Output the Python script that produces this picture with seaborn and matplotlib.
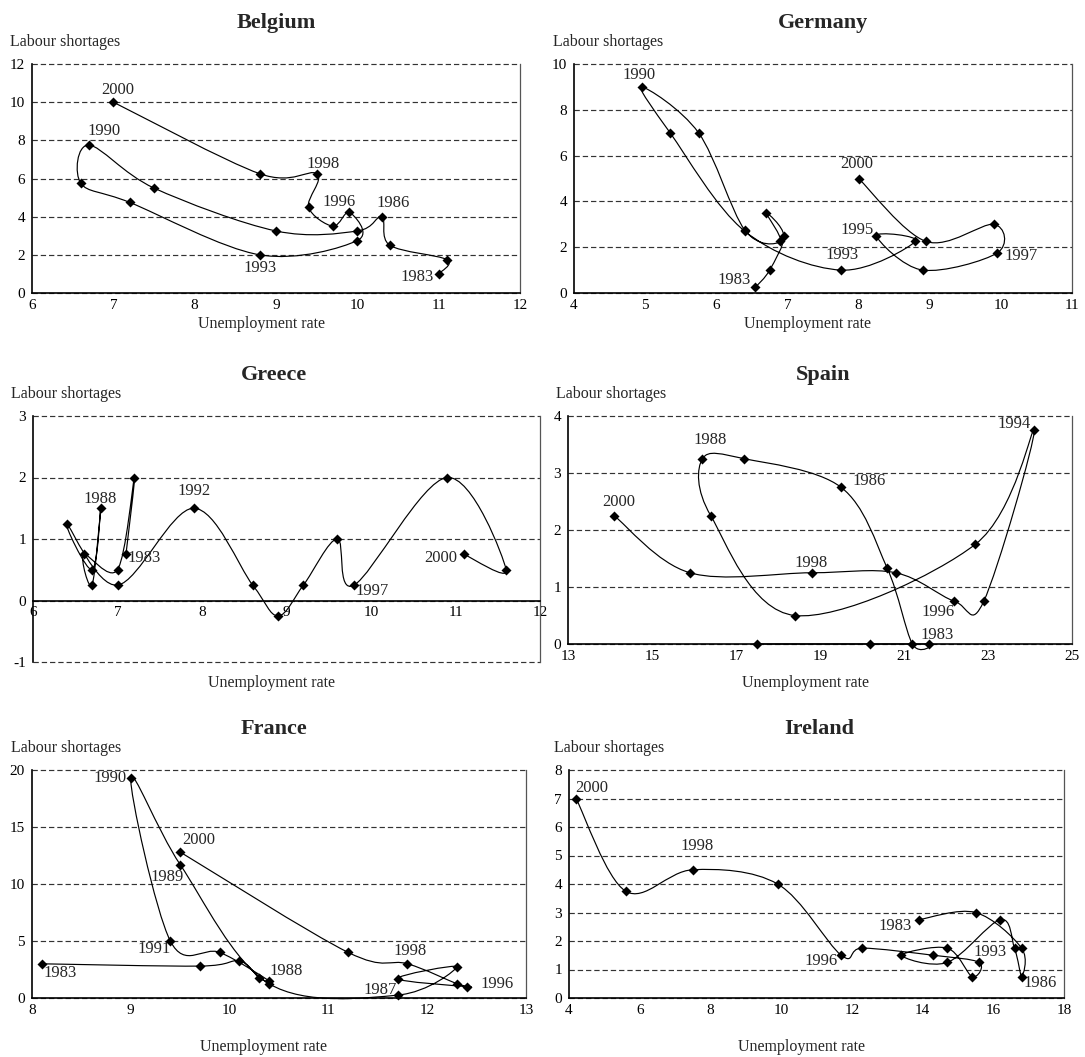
import numpy as np
import pandas as pd
import seaborn as sns
import matplotlib.pyplot as plt
from matplotlib.path import Path
from matplotlib.patches import PathPatch

years = list(range(1983, 2001))

# unemployment rate (x) and labour shortages (y), 1983-2000
belgium_u = [11.0, 11.1, 10.4, 10.3, 10.0, 9.0, 7.5, 6.7, 6.6, 7.2, 8.8, 10.0, 9.9, 9.7, 9.4, 9.5, 8.8, 7.0]
belgium_s = [1.0, 1.75, 2.5, 4.0, 3.25, 3.25, 5.5, 7.75, 5.75, 4.75, 2.0, 2.75, 4.25, 3.5, 4.5, 6.25, 6.25, 10.0]

germany_u = [6.55, 6.75, 6.95, 6.7, 6.9, 6.4, 5.75, 4.95, 5.35, 6.4, 7.75, 8.8, 8.25, 8.9, 9.95, 9.9, 8.95, 8.0]
germany_s = [0.25, 1.0, 2.5, 3.5, 2.25, 2.75, 7.0, 9.0, 7.0, 2.7, 1.0, 2.25, 2.5, 1.0, 1.75, 3.0, 2.25, 5.0]

greece_u = [7.1, 7.2, 7.0, 6.6, 6.7, 6.8, 6.7, 6.4, 7.0, 7.9, 8.6, 8.9, 9.2, 9.6, 9.8, 10.9, 11.6, 11.1]
greece_s = [0.75, 2.0, 0.5, 0.75, 0.25, 1.5, 0.5, 1.25, 0.25, 1.5, 0.25, -0.25, 0.25, 1.0, 0.25, 2.0, 0.5, 0.75]

spain_u = [17.5, 20.2, 21.6, 21.2, 20.6, 19.5, 17.2, 16.2, 16.4, 18.4, 22.7, 24.1, 22.9, 22.2, 20.8, 18.8, 15.9, 14.1]
spain_s = [0.0, 0.0, 0.0, 0.0, 1.33, 2.75, 3.25, 3.25, 2.25, 0.5, 1.75, 3.75, 0.75, 0.75, 1.25, 1.25, 1.25, 2.25]

france_u = [8.1, 9.7, 10.1, 10.3, 10.4, 9.9, 9.4, 9.0, 9.5, 10.4, 11.7, 12.3, 11.7, 12.4, 12.3, 11.8, 11.2, 9.5]
france_s = [3.0, 2.8, 3.25, 1.75, 1.5, 4.0, 5.0, 19.3, 11.7, 1.25, 0.25, 2.75, 1.7, 1.0, 1.25, 3.0, 4.0, 12.8]

ireland_u = [13.9, 15.5, 16.8, 16.8, 16.6, 16.2, 14.7, 13.4, 14.7, 15.4, 15.6, 14.3, 12.3, 11.7, 9.9, 7.5, 5.6, 4.2]
ireland_s = [2.75, 3.0, 1.75, 0.75, 1.75, 2.75, 1.25, 1.5, 1.75, 0.75, 1.25, 1.5, 1.75, 1.5, 4.0, 4.5, 3.75, 7.0]

# year labels: (text, point it sits next to, offset in pixels)
belgium_labels = [('2000', 2000, 4, 12), ('1990', 1990, 15, 14), ('1998', 1998, 6, 10),
                  ('1996', 1995, -10, 10), ('1986', 1986, 11, 14), ('1993', 1993, 0, -13),
                  ('1983', 1983, -22, -3)]
germany_labels = [('1990', 1990, -3, 12), ('2000', 2000, -2, 15), ('1995', 1995, -19, 6),
                  ('1993', 1993, 1, 15), ('1997', 1997, 24, -3), ('1983', 1983, -21, 7)]
greece_labels = [('1988', 1988, 0, 9), ('1983', 1983, 18, -4), ('1992', 1992, 0, 17),
                 ('1997', 1997, 18, -6), ('2000', 2000, -23, -4)]
spain_labels = [('2000', 2000, 5, 14), ('1988', 1990, 8, 19), ('1986', 1988, 28, 6),
                ('1998', 1998, 0, 10), ('1996', 1996, -16, -11), ('1983', 1985, 8, 9),
                ('1994', 1994, -20, 6)]
france_labels = [('1990', 1990, -21, 0), ('2000', 2000, 19, 12), ('1989', 1991, -13, -12),
                 ('1991', 1989, -16, -8), ('1983', 1983, 18, -9), ('1988', 1987, 17, 10),
                 ('1998', 1998, 3, 13), ('1987', 1993, -17, 5), ('1996', 1996, 30, 3)]
ireland_labels = [('2000', 2000, 16, 10), ('1998', 1998, 4, 24), ('1983', 1983, -24, -6),
                  ('1993', 1993, 11, 10), ('1996', 1996, -20, -6), ('1986', 1986, 19, -6)]

W, H = 1085, 1057

# name, x, y, labels, xlim, xstep, ylim, ystep, box in pixels (l, r, t, b), title dx, ylabel dx, xlabel dy
panels = [
    ('Belgium', belgium_u, belgium_s, belgium_labels, (6, 12), 1, (0, 12), 2, (32, 520, 64, 293), 0, -22, -31),
    ('Germany', germany_u, germany_s, germany_labels, (4, 11), 1, (0, 10), 2, (574, 1072, 64, 293), 0, -21, -31),
    ('Greece', greece_u, greece_s, greece_labels, (6, 12), 1, (-1, 3), 1, (33, 540, 416, 662), -13, -22, -21),
    ('Spain', spain_u, spain_s, spain_labels, (13, 25), 2, (0, 4), 1, (568, 1072, 416, 644), 3, -12, -39),
    ('France', france_u, france_s, france_labels, (8, 13), 1, (0, 20), 5, (32, 526, 770, 998), -5, -21, -49),
    ('Ireland', ireland_u, ireland_s, ireland_labels, (4, 18), 2, (0, 8), 1, (569, 1064, 770, 998), 3, -15, -49),
]


def smooth_path(x, y):
    """Bezier path through the points, like a spreadsheet 'smoothed line'."""
    pts = np.column_stack([x, y]).astype(float)
    n = len(pts)
    verts = [pts[0]]
    codes = [Path.MOVETO]
    for i in range(n - 1):
        p0 = pts[max(i - 1, 0)]
        p1 = pts[i]
        p2 = pts[i + 1]
        p3 = pts[min(i + 2, n - 1)]
        verts += [p1 + (p2 - p0) / 6, p2 - (p3 - p1) / 6, p2]
        codes += [Path.CURVE4] * 3
    return Path(verts, codes)


sns.set_theme(style='white')
plt.rcParams['font.family'] = ['Liberation Serif', 'DejaVu Serif']

fig = plt.figure(figsize=(W / 100, H / 100), dpi=100)
fig.patch.set_facecolor('white')

for (name, xs, ys, labels, xlim, xstep, ylim, ystep, box, tdx, ydx, xdy) in panels:
    l, r, t, b = box
    ax = fig.add_axes([l / W, 1 - b / H, (r - l) / W, (b - t) / H])
    df = pd.DataFrame({'year': years, 'unemployment': xs, 'shortages': ys})

    ax.add_patch(PathPatch(smooth_path(df.unemployment, df.shortages), facecolor='none',
                           edgecolor='black', lw=0.85, clip_on=False, zorder=3))
    sns.scatterplot(data=df, x='unemployment', y='shortages', marker='D', s=26,
                    color='black', edgecolor='black', linewidth=0, ax=ax,
                    zorder=4, clip_on=False, legend=False)

    ax.set_xlim(*xlim)
    ax.set_ylim(*ylim)
    ax.set_xticks(np.arange(xlim[0], xlim[1] + 0.01, xstep))
    ax.set_yticks(np.arange(ylim[0], ylim[1] + 0.01, ystep))
    ax.set_xlabel('')
    ax.set_ylabel('')
    ax.yaxis.grid(True, color='#333333', lw=0.85, ls=(0, (4.5, 2.5)))
    ax.xaxis.grid(False)
    ax.set_axisbelow(True)
    for gl in ax.get_ygridlines():
        gl.set_clip_on(False)

    for side in ['left', 'bottom']:
        ax.spines[side].set_color('black')
        ax.spines[side].set_linewidth(1.2)
    ax.spines['right'].set_color('#555555')
    ax.spines['right'].set_linewidth(0.9)
    ax.spines['top'].set_visible(False)
    if ylim[0] < 0:
        ax.spines['bottom'].set_position(('data', 0))

    ax.tick_params(axis='x', direction='in', length=3, width=0.8, pad=4,
                   labelsize=11, colors='black')
    ax.tick_params(axis='y', length=0, pad=5, labelsize=11, colors='black')
    ax.set_yticklabels([f'{v:g}' for v in ax.get_yticks()])
    ax.set_xticklabels([f'{v:g}' for v in ax.get_xticks()])

    # year labels next to their points
    for text, yr, dx, dy in labels:
        row = df[df.year == yr].iloc[0]
        ax.annotate(text, xy=(row.unemployment, row.shortages), xytext=(dx, dy),
                    textcoords='offset pixels', ha='center', va='center', fontsize=12)

    ax.annotate(name, xy=(0.5, 1), xycoords='axes fraction', xytext=(tdx, 41),
                textcoords='offset pixels', ha='center', va='center',
                fontsize=16, fontweight='bold')
    ax.annotate('Labour shortages', xy=(0, 1), xycoords='axes fraction', xytext=(ydx, 22),
                textcoords='offset pixels', ha='left', va='center', fontsize=11.5)
    ax.annotate('Unemployment rate', xy=(0.5, 0), xycoords='axes fraction', xytext=(-15, xdy),
                textcoords='offset pixels', ha='center', va='center', fontsize=11.5)

fig.savefig('out.png', dpi=100, facecolor='white')
